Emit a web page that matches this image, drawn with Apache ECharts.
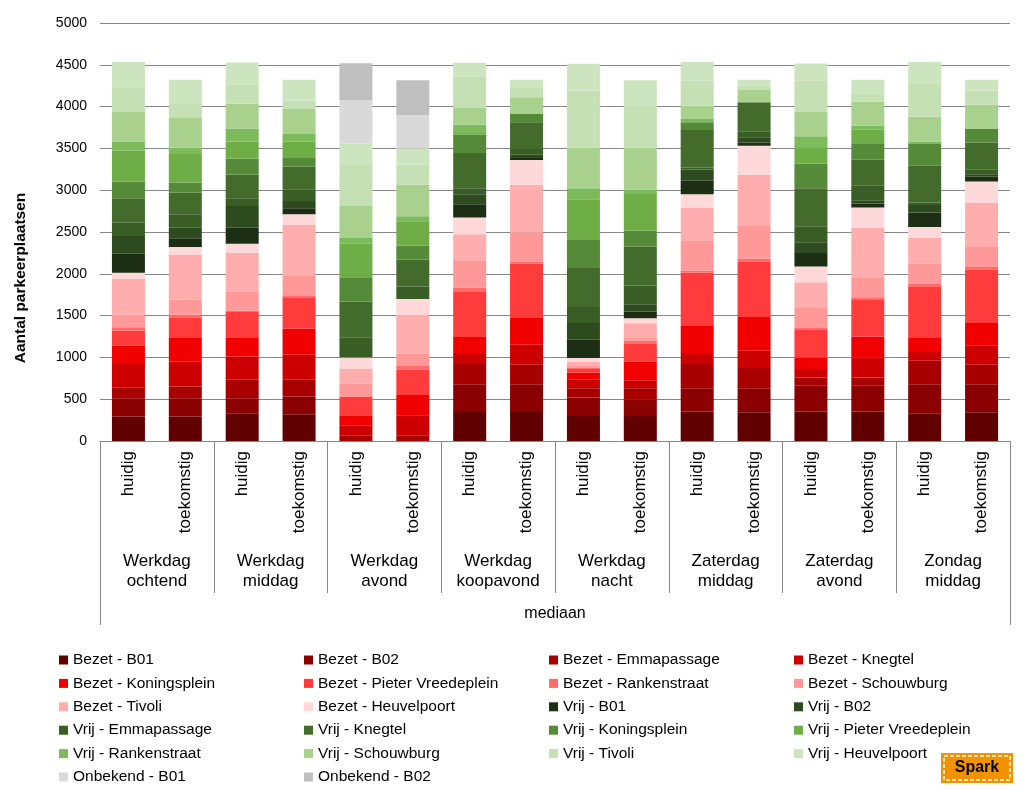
<!DOCTYPE html>
<html>
<head>
<meta charset="utf-8">
<script src="https://cdn.jsdelivr.net/npm/echarts@6/dist/echarts.min.js"></script>
<style>
html,body{margin:0;padding:0;background:#fff;}
#chart{width:1023px;height:790px;}
</style>
</head>
<body>
<div id="chart"></div>
<script>
// ---- categories ----
const barLabels = ['huidig','toekomstig','huidig','toekomstig','huidig','toekomstig','huidig','toekomstig',
                   'huidig','toekomstig','huidig','toekomstig','huidig','toekomstig','huidig','toekomstig'];
const groupLabels = ['Werkdag\nochtend','Werkdag\nmiddag','Werkdag\navond','Werkdag\nkoopavond',
                     'Werkdag\nnacht','Zaterdag\nmiddag','Zaterdag\navond','Zondag\nmiddag'];
const outerLabel = ['mediaan'];
const yTicks = [0, 5000, 500];

// ---- series values (one per bar) ----
const bezetB01          = [292,292,332,320,0,0,360,360,300,300,352,344,352,352,332,344];
const bezetB02          = [220,220,180,212,0,0,320,320,220,200,280,288,308,308,348,336];
const bezetEmmapassage  = [132,140,220,200,68,68,240,232,112,132,288,240,100,100,280,232];
const bezetKnegtel      = [276,300,280,300,120,240,132,240,108,96,132,208,100,240,104,232];
const bezetKoningsplein = [220,288,220,312,120,252,200,320,80,224,332,412,140,248,176,268];
const bezetPieterVreede = [180,232,312,376,220,296,540,648,40,208,628,652,328,440,612,640];
const bezetRankenstraat = [40,40,16,24,8,40,40,24,20,40,28,40,24,32,28,28];
const bezetSchouwburg   = [152,180,224,240,152,152,320,348,20,32,360,388,240,240,240,240];
const bezetTivoli       = [432,540,468,600,180,460,320,572,48,176,392,612,308,592,312,532];
const bezetHeuvelpoort  = [68,88,108,128,132,192,200,296,44,60,160,348,188,240,128,252];
const vrijB01           = [228,104,192,72,0,0,160,24,220,80,160,40,160,48,172,56];
const vrijB02           = [212,128,260,88,0,0,120,40,200,88,136,60,128,40,92,32];
const vrijEmmapassage   = [160,160,92,140,240,148,72,68,192,224,24,72,192,180,28,60];
const vrijKnegtel       = [292,260,280,268,428,320,420,320,464,468,448,348,456,304,440,320];
const vrijKoningsplein  = [200,120,192,104,292,172,220,100,336,188,92,0,292,188,260,160];
const vrijPieterVreede  = [368,340,208,200,400,288,20,0,488,440,0,0,188,172,0,0];
const vrijRankenstraat  = [112,80,152,88,68,60,100,0,132,52,40,0,140,48,32,0];
const vrijSchouwburg    = [360,360,300,300,384,380,200,200,488,500,160,148,292,288,296,292];
const vrijTivoli        = [288,160,232,100,488,240,380,120,680,500,300,52,380,100,400,168];
const vrijHeuvelpoort   = [300,288,260,248,260,192,160,88,320,308,220,68,200,160,252,128];
const onbekendB01       = [0,0,0,0,520,400,0,0,0,0,0,0,0,0,0,0];
const onbekendB02       = [0,0,0,0,440,416,0,0,0,0,0,0,0,0,0,0];

const seriesNames = [
  'Bezet - B01','Bezet - B02','Bezet - Emmapassage','Bezet - Knegtel',
  'Bezet - Koningsplein','Bezet - Pieter Vreedeplein','Bezet - Rankenstraat','Bezet - Schouwburg',
  'Bezet - Tivoli','Bezet - Heuvelpoort','Vrij - B01','Vrij - B02',
  'Vrij - Emmapassage','Vrij - Knegtel','Vrij - Koningsplein','Vrij - Pieter Vreedeplein',
  'Vrij - Rankenstraat','Vrij - Schouwburg','Vrij - Tivoli','Vrij - Heuvelpoort',
  'Onbekend - B01','Onbekend - B02'
];
const seriesValues = [
  bezetB01,bezetB02,bezetEmmapassage,bezetKnegtel,bezetKoningsplein,bezetPieterVreede,
  bezetRankenstraat,bezetSchouwburg,bezetTivoli,bezetHeuvelpoort,
  vrijB01,vrijB02,vrijEmmapassage,vrijKnegtel,vrijKoningsplein,vrijPieterVreede,
  vrijRankenstraat,vrijSchouwburg,vrijTivoli,vrijHeuvelpoort,
  onbekendB01,onbekendB02
];
const seriesColors = [
  '#600000','#8B0000','#A80000','#CC0000','#F00000','#FF3B3B','#FF6B6B','#FF9999','#FFADAD','#FFD9D9',
  '#1C2E13','#2E4A1F','#385D25','#436B2C','#548A38','#6FAE46','#7DBA5C','#A9D18E','#C5E0B4','#CDE5BE',
  '#D9D9D9','#BFBFBF'
];

const FONT = 'Liberation Sans, Arial, sans-serif';
const chart = echarts.init(document.getElementById('chart'), null, {renderer:'canvas'});

const series = seriesNames.map((n,i)=>({
  name:n, type:'bar', stack:'total', xAxisIndex:0, yAxisIndex:0,
  barWidth:33, data:seriesValues[i], itemStyle:{color:seriesColors[i]},
  emphasis:{disabled:true}
}));

const legendCols = [59,304,549,794];
const legends = legendCols.map((left,c)=>({
  orient:'vertical', left:left, top:651, padding:0, itemGap:5.4,
  itemWidth:9, itemHeight:9, icon:'rect', selectedMode:false,
  textStyle:{fontFamily:FONT, fontSize:15.5, lineHeight:18, color:'#000'},
  data: seriesNames.filter((_,i)=>i%4===c)
}));

chart.setOption({
  animation:false,
  backgroundColor:'#fff',
  grid:{left:100, right:13, top:23, height:418, containLabel:false},
  legend: legends,
  xAxis:[
    {type:'category', data:barLabels, position:'bottom',
     axisLine:{show:true, lineStyle:{color:'#878787', width:1}},
     axisTick:{show:false},
     axisLabel:{interval:0, rotate:90, margin:10, fontFamily:FONT, fontSize:17, color:'#000'}},
    {type:'category', data:groupLabels, position:'bottom',
     axisLine:{show:false},
     axisTick:{show:true, interval:0, length:152, lineStyle:{color:'#878787', width:1}},
     axisLabel:{interval:0, margin:110, fontFamily:FONT, fontSize:17, lineHeight:20, color:'#000', align:'center'}},
    {type:'category', data:outerLabel, position:'bottom',
     axisLine:{show:false},
     axisTick:{show:true, interval:0, length:184, lineStyle:{color:'#878787', width:1}},
     axisLabel:{interval:0, margin:165, fontFamily:FONT, fontSize:16, color:'#000'}}
  ],
  yAxis:{type:'value', min:yTicks[0], max:yTicks[1], interval:yTicks[2],
     axisLine:{show:false}, axisTick:{show:false},
     splitLine:{show:true, lineStyle:{color:'#878787', width:1}},
     axisLabel:{margin:13, fontFamily:FONT, fontSize:14, color:'#000', formatter:(v)=>String(v)}},
  series: series,
  graphic:[
    {type:'text', x:21, y:278, rotation:Math.PI/2,
     style:{text:'Aantal parkeerplaatsen', font:'bold 15.5px Liberation Sans, Arial, sans-serif',
            fill:'#000', align:'center', verticalAlign:'middle'}},
    {type:'group', left:941, top:753, children:[
      {type:'rect', shape:{x:0,y:0,width:72,height:30}, style:{fill:'#F39200'}},
      {type:'rect', shape:{x:3,y:3,width:66,height:24}, style:{fill:'none', stroke:'#FFE3B8', lineWidth:2, lineDash:[4,2]}},
      {type:'text', x:36, y:15, style:{text:'Spark', font:'bold 16px Liberation Sans, Arial, sans-serif',
            fill:'#000', align:'center', verticalAlign:'middle'}}
    ]}
  ]
});
</script>
</body>
</html>
